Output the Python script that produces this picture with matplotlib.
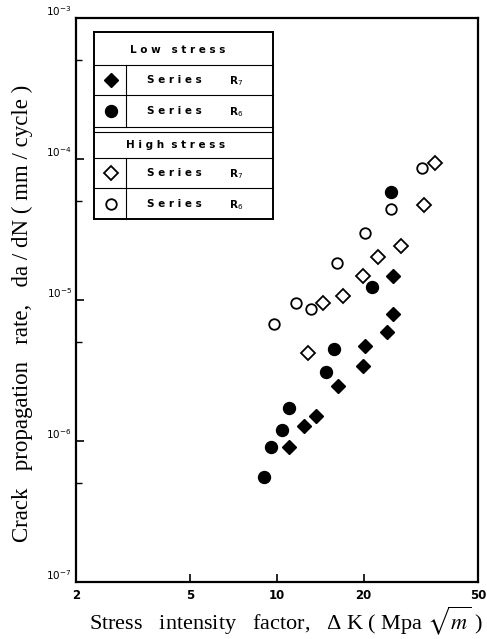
import matplotlib
matplotlib.use("Agg")
import matplotlib.pyplot as plt
from matplotlib.lines import Line2D


# Low stress, series R7 (filled diamonds)
low_r7_dk = [11.0, 12.4, 13.7, 16.3, 19.9, 20.2, 24.1, 25.3, 25.3]
low_r7_rate = [9.1e-7, 1.28e-6, 1.50e-6, 2.45e-6, 3.4e-6, 4.72e-6, 5.93e-6, 7.96e-6, 1.47e-5]

# Low stress, series R6 (filled circles)
low_r6_dk = [9.0, 9.5, 10.4, 11.0, 14.8, 15.8, 21.4, 24.9]
low_r6_rate = [5.6e-7, 9.1e-7, 1.2e-6, 1.71e-6, 3.08e-6, 4.49e-6, 1.24e-5, 5.83e-5]

# High stress, series R7 (open diamonds)
high_r7_dk = [12.8, 14.4, 16.9, 19.9, 22.4, 27.0, 32.4, 35.4]
high_r7_rate = [4.21e-6, 9.5e-6, 1.07e-5, 1.47e-5, 2.02e-5, 2.42e-5, 4.72e-5, 9.37e-5]

# High stress, series R6 (open circles)
high_r6_dk = [9.8, 11.6, 13.1, 16.2, 20.2, 24.9, 31.9]
high_r6_rate = [6.76e-6, 9.5e-6, 8.6e-6, 1.83e-5, 2.99e-5, 4.42e-5, 8.63e-5]

x_ticks = [2, 5, 10, 20, 50]
x_tick_labels = ["2", "5", "10", "20", "50"]
y_ticks = [1e-7, 1e-6, 1e-5, 1e-4, 1e-3]
y_tick_labels = [r"$10^{-7}$", r"$10^{-6}$", r"$10^{-5}$", r"$10^{-4}$", r"$10^{-3}$"]
y_minor = [5e-7, 5e-6, 5e-5, 5e-4]


W, H = 487, 639
fig = plt.figure(figsize=(W / 100, H / 100), dpi=100)
ax = fig.add_axes([76 / W, 1 - 582 / H, 402 / W, 564 / H])

ax.set_xscale("log")
ax.set_yscale("log")
ax.set_xlim(2, 50)
ax.set_ylim(1e-7, 1e-3)

ax.plot(low_r7_dk, low_r7_rate, "D", ms=7.2, color="black", mec="black")
ax.plot(low_r6_dk, low_r6_rate, "o", ms=8.6, color="black", mec="black")
ax.plot(high_r7_dk, high_r7_rate, "D", ms=6.8, mfc="white", mec="black", mew=1.3)
ax.plot(high_r6_dk, high_r6_rate, "o", ms=7.6, mfc="white", mec="black", mew=1.3)

for s in ax.spines.values():
    s.set_linewidth(1.6)

ax.xaxis.set_minor_locator(matplotlib.ticker.NullLocator())
ax.yaxis.set_minor_locator(matplotlib.ticker.NullLocator())
ax.set_xticks(x_ticks)
ax.set_xticklabels(x_tick_labels, fontsize=8.5, fontweight="bold")
ax.set_yticks(y_ticks)
ax.set_yticklabels(y_tick_labels, fontsize=7.5)
ax.set_yticks(y_minor, minor=True)
ax.tick_params(axis="both", which="major", direction="in", length=6, width=1.2, pad=3)
ax.tick_params(axis="x", which="major", pad=5)
ax.tick_params(axis="y", which="minor", direction="in", length=4, width=1.0)
for lab in ax.get_yticklabels():
    lab.set_verticalalignment("bottom")

ax.set_ylabel("Crack   propagation   rate,   da / dN ( mm / cycle )",
              family="Liberation Serif", fontsize=16.5)
ax.yaxis.set_label_coords(-0.107, 0.477)
ax.set_xlabel("Stress   intensity   factor,   \u0394 K ( Mpa $\\sqrt{m}$ )",
              family="Liberation Serif", fontsize=16, math_fontfamily="stix")
ax.xaxis.set_label_coords(0.522, -0.083)
ax.xaxis.label.set_verticalalignment("baseline")


# legend table drawn by hand, pixel positions converted to axes fractions
def fx(px):
    return (px - 76) / 402


def fy(py):
    return (582 - py) / 564


L, R, T, B = 94, 273, 32, 219
box = [(L, T, R, T), (R, T, R, B), (R, B, L, B), (L, B, L, T)]
for x0, y0, x1, y1 in box:
    ax.add_line(Line2D([fx(x0), fx(x1)], [fy(y0), fy(y1)], transform=ax.transAxes,
                       color="black", lw=1.4))
for py in [65, 95, 127, 132, 158, 188]:
    ax.add_line(Line2D([fx(L), fx(R)], [fy(py), fy(py)], transform=ax.transAxes,
                       color="black", lw=0.8))
for y0, y1 in [(65, 127), (158, 219)]:
    ax.add_line(Line2D([fx(126), fx(126)], [fy(y0), fy(y1)], transform=ax.transAxes,
                       color="black", lw=0.8))

txt = dict(transform=ax.transAxes, fontsize=7.5, fontweight="bold",
           va="center", ha="center")
ax.text(fx(178), fy(50), "L o w   s t r e s s", **txt)
ax.text(fx(176), fy(145), "H i g h  s t r e s s", **txt)

rows = [
    (80, "D", "black", 7.2, r"R$_7$"),
    (111, "o", "black", 8.6, r"R$_6$"),
    (173, "D", "white", 6.8, r"R$_7$"),
    (204, "o", "white", 7.6, r"R$_6$"),
]
for py, mk, fc, ms, rl in rows:
    ax.plot([fx(111)], [fy(py)], mk, ms=ms, mfc=fc, mec="black",
            mew=1.3 if fc == "white" else 1.0, transform=ax.transAxes, clip_on=False)
    ax.text(fx(174), fy(py), "S e r i e s", **txt)
    ax.text(fx(236), fy(py + 1), rl, **txt)

fig.savefig("out.png", dpi=100)
